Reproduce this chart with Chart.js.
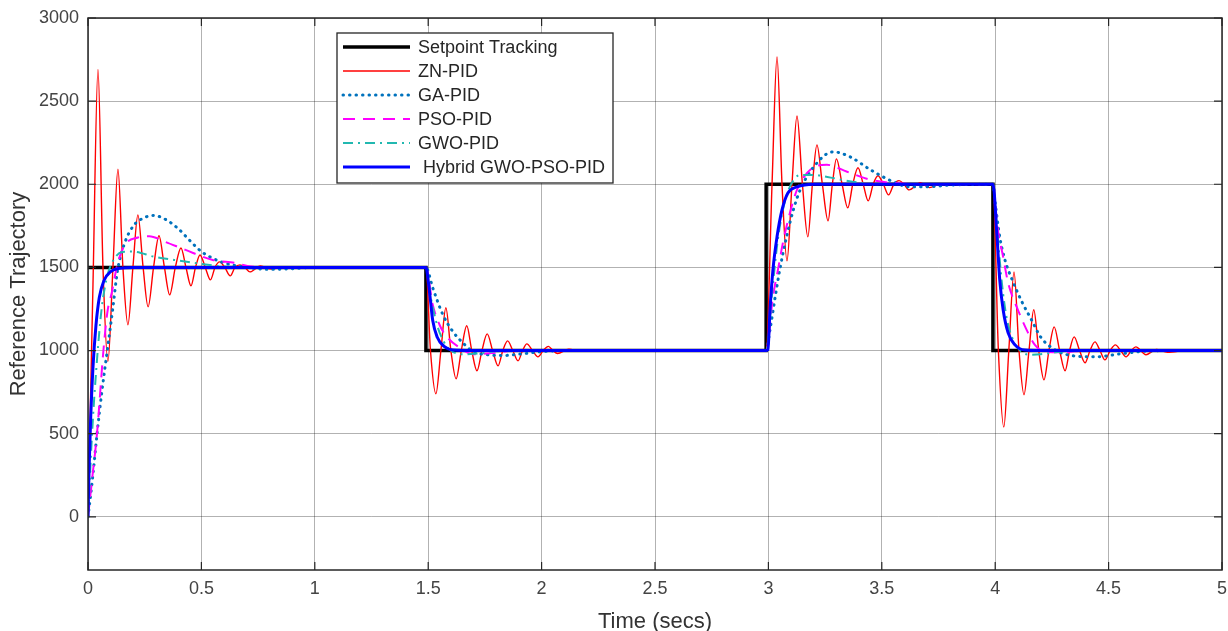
<!DOCTYPE html>
<html>
<head>
<meta charset="utf-8">
<title>Reference Trajectory</title>
<style>
  html, body { margin: 0; padding: 0; background: #fff; }
  #chart { display: block; }
</style>
</head>
<body>
<canvas id="chart" width="1228" height="631"></canvas>

<script src="https://cdn.jsdelivr.net/npm/chart.js@4.4.1/dist/chart.umd.min.js"></script>
<script>
// ---- data (time in secs, value) ----
var xTicks = [0, 0.5, 1, 1.5, 2, 2.5, 3, 3.5, 4, 4.5, 5];
var yTicks = [0, 500, 1000, 1500, 2000, 2500, 3000];

var setT = [0, 1.49, 1.49, 2.99, 2.99, 3.99, 3.99, 5];
var setV = [1500, 1500, 1000, 1000, 2000, 2000, 1000, 1000];

var znT = [0, 0.022, 0.044, 0.066, 0.088, 0.11, 0.132, 0.154, 0.176, 0.198, 0.22, 0.243, 0.265, 0.289,
  0.313, 0.337, 0.36, 0.385, 0.41, 0.432, 0.454, 0.474, 0.494, 0.517, 0.54, 0.56, 0.58, 0.603, 0.627,
  0.648, 0.67, 0.692, 0.714, 0.76, 0.81, 0.86, 0.95,
  1.49, 1.51, 1.534, 1.556, 1.578, 1.6, 1.623, 1.646, 1.67, 1.692, 1.715, 1.737, 1.76, 1.784, 1.808,
  1.829, 1.85, 1.873, 1.896, 1.916, 1.935, 1.96, 1.984, 2.007, 2.03, 2.05, 2.07, 2.12, 2.17, 2.25,
  2.99, 3.016, 3.038, 3.06, 3.082, 3.104, 3.126, 3.15, 3.174, 3.194, 3.214, 3.238, 3.263, 3.282, 3.30,
  3.325, 3.35, 3.372, 3.395, 3.418, 3.44, 3.462, 3.483, 3.507, 3.53, 3.553, 3.576, 3.598, 3.62, 3.67,
  3.71, 3.76, 3.85,
  3.99, 4.014, 4.038, 4.06, 4.083, 4.105, 4.127, 4.149, 4.17, 4.192, 4.215, 4.237, 4.26, 4.284, 4.308,
  4.328, 4.348, 4.372, 4.396, 4.418, 4.44, 4.462, 4.484, 4.507, 4.53, 4.553, 4.577, 4.6, 4.62, 4.665,
  4.71, 4.76, 4.85, 5];
var znV = [0, 1400, 2690, 1500, 935, 1500, 2090, 1500, 1155, 1500, 1816, 1500, 1263, 1500,
  1690, 1500, 1335, 1500, 1617, 1500, 1389, 1500, 1575, 1500, 1425, 1500, 1533, 1500, 1449,
  1500, 1515, 1500, 1473, 1508, 1490, 1503, 1500,
  1500, 1000, 740, 1000, 1257, 1000, 830, 1000, 1149, 1000, 878, 1000, 1100, 1000, 908,
  1000, 1058, 1000, 938, 1000, 1040, 1000, 962, 1000, 1025, 1000, 982, 1008, 995, 1000,
  1000, 2000, 2765, 2000, 1539, 2000, 2411, 2000, 1684, 2000, 2237, 2000, 1780, 2000, 2153,
  2000, 1858, 2000, 2099, 2000, 1900, 2000, 2051, 2000, 1936, 2000, 2022, 2000, 1966, 2010,
  1980, 2003, 2000,
  2000, 1000, 540, 1000, 1473, 1000, 734, 1000, 1245, 1000, 824, 1000, 1142, 1000, 878,
  1000, 1082, 1000, 926, 1000, 1052, 1000, 944, 1000, 1034, 1000, 962, 1000, 1022, 975,
  1006, 990, 1002, 1000];

var gaT = [0, 0.02, 0.04, 0.06, 0.085, 0.11, 0.13, 0.16, 0.2, 0.25, 0.29, 0.34, 0.4, 0.45, 0.5, 0.55,
  0.6, 0.7, 0.8, 0.9, 1.0, 1.49,
  1.52, 1.565, 1.61, 1.653, 1.697, 1.76, 1.83, 1.9, 2.0, 2.1, 2.99,
  3.007, 3.03, 3.05, 3.08, 3.11, 3.14, 3.2, 3.285, 3.36, 3.45, 3.55, 3.62, 3.7, 3.8, 3.99,
  4.0, 4.02, 4.043, 4.075, 4.12, 4.16, 4.2, 4.25, 4.32, 4.44, 4.55, 4.65, 4.8, 5];
var gaV = [0, 230, 500, 740, 1000, 1260, 1480, 1640, 1750, 1800, 1812, 1790, 1730, 1660, 1595, 1555,
  1527, 1500, 1488, 1492, 1500, 1500,
  1377, 1215, 1112, 1046, 995, 975, 970, 978, 993, 1000, 1000,
  1124, 1323, 1485, 1684, 1846, 1966, 2105, 2195, 2165, 2087, 2015, 1985, 1985, 1995, 2000,
  1888, 1684, 1545, 1425, 1287, 1185, 1082, 1016, 974, 962, 980, 995, 1000, 1000];

var psoT = [0, 0.02, 0.04, 0.068, 0.085, 0.105, 0.13, 0.163, 0.22, 0.27, 0.34, 0.43, 0.55, 0.65, 0.72,
  0.85, 1.49,
  1.52, 1.55, 1.575, 1.64, 1.70, 1.78, 1.9, 2.99,
  3.02, 3.042, 3.064, 3.095, 3.126, 3.197, 3.258, 3.347, 3.45, 3.55, 3.7, 3.99,
  4.01, 4.035, 4.057, 4.1, 4.145, 4.175, 4.22, 4.3, 4.4, 5];
var psoV = [0, 250, 505, 1000, 1227, 1350, 1520, 1635, 1680, 1688, 1654, 1605, 1545, 1527, 1505,
  1500, 1500,
  1275, 1155, 1094, 1016, 978, 985, 1000, 1000,
  1323, 1485, 1648, 1828, 1966, 2100, 2117, 2075, 2027, 2008, 2000, 2000,
  1744, 1563, 1407, 1245, 1106, 1034, 992, 990, 1000, 1000];

var gwoT = [0, 0.02, 0.04, 0.06, 0.08, 0.1, 0.15, 0.195, 0.295, 0.38, 0.47, 0.6, 0.75, 1.49,
  1.51, 1.54, 1.57, 1.6, 1.65, 1.7, 1.8, 1.9, 2.99,
  3.02, 3.04, 3.06, 3.08, 3.1, 3.14, 3.2, 3.26, 3.37, 3.5, 3.99,
  4.01, 4.03, 4.05, 4.08, 4.11, 4.15, 4.2, 4.3, 4.4, 5];
var gwoV = [0, 550, 950, 1250, 1420, 1510, 1593, 1595, 1563, 1545, 1527, 1505, 1500, 1500,
  1330, 1150, 1050, 1000, 978, 980, 995, 1000, 1000,
  1400, 1650, 1820, 1930, 2000, 2056, 2056, 2044, 2015, 2000, 2000,
  1700, 1400, 1200, 1060, 1000, 975, 978, 995, 1000, 1000];

var hybT = [0, 0.005, 0.012, 0.022, 0.035, 0.05, 0.07, 0.1, 0.14, 0.2, 1.49,
  1.5, 1.51, 1.52, 1.54, 1.57, 1.61, 1.7, 2.99,
  2.998, 3.007, 3.02, 3.038, 3.06, 3.086, 3.126, 3.2, 3.99,
  4.008, 4.02, 4.035, 4.057, 4.087, 4.13, 4.2, 5];
var hybV = [0, 300, 600, 900, 1150, 1320, 1420, 1475, 1495, 1500, 1500,
  1420, 1300, 1180, 1080, 1025, 1003, 1000, 1000,
  1004, 1245, 1485, 1684, 1846, 1948, 1984, 2000, 2000,
  1684, 1425, 1245, 1106, 1034, 1003, 1000, 1000];

var FONT = "'Liberation Sans', Arial, Helvetica, sans-serif";

function pts(ts, vs) {
  return ts.map(function (t, i) { return { x: t, y: vs[i] }; });
}

// box round the axes, MATLAB style, with small inward ticks
var framePlugin = {
  id: 'frame',
  afterDraw: function (chart) {
    var a = chart.chartArea, ctx = chart.ctx;
    var xs = chart.scales.x, ys = chart.scales.y;
    ctx.save();
    ctx.strokeStyle = '#262626';
    ctx.lineWidth = 1.5;
    ctx.strokeRect(a.left, a.top, a.right - a.left, a.bottom - a.top);
    ctx.lineWidth = 1.2;
    ctx.beginPath();
    xTicks.forEach(function (v) {
      var px = xs.getPixelForValue(v);
      ctx.moveTo(px, a.bottom); ctx.lineTo(px, a.bottom - 8);
      ctx.moveTo(px, a.top); ctx.lineTo(px, a.top + 8);
    });
    yTicks.forEach(function (v) {
      var py = ys.getPixelForValue(v);
      ctx.moveTo(a.left, py); ctx.lineTo(a.left + 8, py);
      ctx.moveTo(a.right, py); ctx.lineTo(a.right - 8, py);
    });
    ctx.stroke();
    ctx.restore();
  }
};

// legend box drawn inside the axes
var legendPlugin = {
  id: 'boxLegend',
  afterDraw: function (chart) {
    var ctx = chart.ctx;
    var bx = 337, by = 33, bw = 276, bh = 150;
    ctx.save();
    ctx.fillStyle = '#fff';
    ctx.fillRect(bx, by, bw, bh);
    ctx.strokeStyle = '#262626';
    ctx.lineWidth = 1.3;
    ctx.strokeRect(bx, by, bw, bh);
    ctx.font = '18px ' + FONT;
    ctx.textBaseline = 'middle';
    ctx.fillStyle = '#262626';
    chart.data.datasets.forEach(function (ds, i) {
      var y = by + 14 + i * 24;
      ctx.save();
      ctx.strokeStyle = ds.borderColor;
      ctx.lineWidth = ds.borderWidth;
      ctx.lineCap = ds.borderCapStyle || 'butt';
      ctx.setLineDash(ds.borderDash || []);
      ctx.beginPath();
      ctx.moveTo(343, y);
      ctx.lineTo(410, y);
      ctx.stroke();
      ctx.restore();
      ctx.fillText(ds.label, 418, y + 1);
    });
    ctx.restore();
  }
};

new Chart(document.getElementById('chart'), {
  type: 'line',
  data: {
    datasets: [
      { label: 'Setpoint Tracking', data: pts(setT, setV), borderColor: '#000000', borderWidth: 3.5, tension: 0, order: 5 },
      { label: 'ZN-PID', data: pts(znT, znV), borderColor: '#ff0000', borderWidth: 1.4, cubicInterpolationMode: 'monotone', order: 4 },
      { label: 'GA-PID', data: pts(gaT, gaV), borderColor: '#0072bd', borderWidth: 3, borderDash: [0.5, 6], borderCapStyle: 'round', cubicInterpolationMode: 'monotone', order: 3 },
      { label: 'PSO-PID', data: pts(psoT, psoV), borderColor: '#ff00ff', borderWidth: 2, borderDash: [12, 8], cubicInterpolationMode: 'monotone', order: 2 },
      { label: 'GWO-PID', data: pts(gwoT, gwoV), borderColor: '#22b8b0', borderWidth: 2, borderDash: [10, 5, 2, 5], cubicInterpolationMode: 'monotone', order: 1 },
      { label: ' Hybrid GWO-PSO-PID', data: pts(hybT, hybV), borderColor: '#0000ff', borderWidth: 3, cubicInterpolationMode: 'monotone', order: 0 }
    ]
  },
  options: {
    responsive: false,
    animation: false,
    events: [],
    elements: { point: { radius: 0 } },
    layout: { padding: { top: 18, right: 6, bottom: 0, left: 0 } },
    plugins: { legend: { display: false }, tooltip: { enabled: false } },
    scales: {
      x: {
        type: 'linear',
        min: 0, max: 5,
        afterBuildTicks: function (s) { s.ticks = xTicks.map(function (v) { return { value: v }; }); },
        afterFit: function (s) { s.height = 61; s.paddingLeft = 0; s.paddingRight = 0; },
        grid: { color: 'rgba(0,0,0,0.3)', lineWidth: 1, drawTicks: false },
        border: { display: false },
        ticks: { color: '#444', font: { family: FONT, size: 18 }, padding: 8, maxRotation: 0,
          callback: function (v) { return String(v); } },
        title: { display: true, text: 'Time (secs)', color: '#333', font: { family: FONT, size: 22 }, padding: { top: 0, bottom: -4 } }
      },
      y: {
        type: 'linear',
        min: -320, max: 3000,
        afterBuildTicks: function (s) { s.ticks = yTicks.map(function (v) { return { value: v }; }); },
        afterFit: function (s) { s.width = 88; s.paddingTop = 0; s.paddingBottom = 0; },
        grid: { color: 'rgba(0,0,0,0.3)', lineWidth: 1, drawTicks: false },
        border: { display: false },
        ticks: { color: '#444', font: { family: FONT, size: 18 }, padding: 9,
          callback: function (v) { return String(v); } },
        title: { display: true, text: 'Reference Trajectory', color: '#333', font: { family: FONT, size: 22 }, padding: { top: 6, bottom: 0 } }
      }
    }
  },
  plugins: [framePlugin, legendPlugin]
});
</script>
</body>
</html>
